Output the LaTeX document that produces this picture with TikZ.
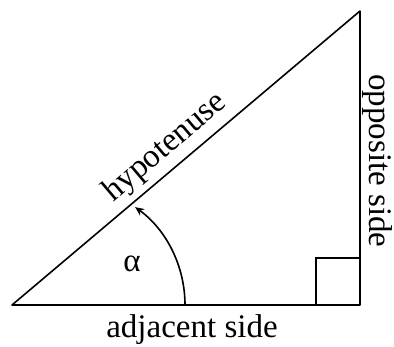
\documentclass[tikz,border=0pt]{standalone}
\usepackage{fontspec}
\setmainfont{Liberation Serif}
\usetikzlibrary{arrows.meta}
\begin{document}
\begin{tikzpicture}[x=1pt,y=-1pt,
  edge/.style={line width=1.6pt},
  lbl/.style={font=\fontsize{33}{38}\selectfont, inner sep=0pt}]
\useasboundingbox (0,0) rectangle (394,347);
\coordinate (A) at (12,305);
\coordinate (B) at (360,305);
\coordinate (C) at (360,11);
\draw[edge, line join=round] (A) -- (B) -- (C) -- cycle;
\draw[edge] (316,305) -- (316,258) -- (360,258);
\coordinate (S) at (185,305);
\draw[edge, -{Stealth[length=9pt,width=8pt]}] (S) arc[start angle=0, end angle=-54, radius=121];
\node[lbl] (alpha) at (132,264) {α};
\node[lbl] (adj) at (192,330) {adjacent side};
\node[lbl, rotate=-90] (opp) at (377,161) {opposite side};
\path (A) -- (C) node[lbl, pos=0.48, sloped, above=6pt] (hyp) {hypotenuse};
\end{tikzpicture}
\end{document}
